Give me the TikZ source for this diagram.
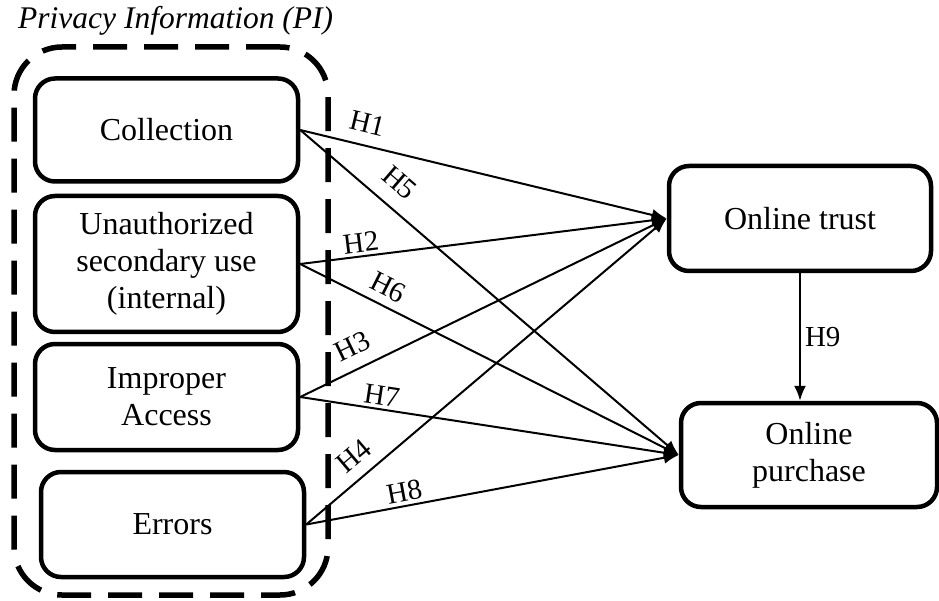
\documentclass[tikz,border=0pt]{standalone}
\usepackage{fontspec}
\setmainfont{Liberation Serif}
\usetikzlibrary{arrows.meta,positioning,calc}

\begin{document}
\begin{tikzpicture}[
    x=1pt, y=-1pt,
    font=\fontsize{32}{37}\selectfont,
    box/.style={draw=black, rounded corners=20pt, line width=4.5pt, align=center, inner sep=0pt},
    frame/.style={draw=black, dash pattern=on 34pt off 17pt, rounded corners=48pt, line width=5.5pt, inner sep=0pt},
    arr/.style={-{Latex[length=15pt,width=12pt]}, line width=2pt},
    hlab/.style={sloped, above, inner sep=3pt, font=\fontsize{29}{30}\selectfont}
]
\useasboundingbox (0,0) rectangle (939,601);

\node[font=\fontsize{31.5}{36}\selectfont\itshape, anchor=base west, inner sep=0pt] (title) at (18,29) {Privacy Information (PI)};

\node[frame, minimum width=314pt, minimum height=548pt] (pi) at (171,321) {};

\node[box, minimum width=263pt, minimum height=103pt] (coll) at (166.5,130) {Collection};
\node[box, minimum width=263pt, minimum height=136pt] (unauth) at (166.5,264) {Unauthorized\\secondary use\\(internal)};
\node[box, minimum width=263pt, minimum height=106pt] (improper) at (166.5,397) {Improper\\Access};
\node[box, minimum width=263pt, minimum height=105pt] (errors) at (172.5,524.5) {Errors};

\node[box, minimum width=262pt, minimum height=105pt] (trust) at (800,218.5) {Online trust};
\node[box, minimum width=256pt, minimum height=104pt] (purchase) at (809,455) {Online\\purchase};

% paths to online trust
\draw[arr] (coll.east) -- node[hlab, pos=0.17, above=9pt] {H1} (trust.west);
\draw[arr] (unauth.east) -- node[hlab, pos=0.17] {H2} (trust.west);
\draw[arr] (improper.east) -- node[hlab, pos=0.17, above=9pt] {H3} (trust.west);
\draw[arr] (errors.east) -- node[hlab, pos=0.17, above=8pt] {H4} (trust.west);

% paths to online purchase
\draw[arr] (coll.east) -- node[hlab, pos=0.22, above=11pt] {H5} (purchase.west);
\draw[arr] (unauth.east) -- node[hlab, pos=0.21, above=5pt] {H6} (purchase.west);
\draw[arr] (improper.east) -- node[hlab, pos=0.21] {H7} (purchase.west);
\draw[arr] (errors.east) -- node[hlab, pos=0.27] {H8} (purchase.west);

\draw[arr] (trust.south) -- node[right, inner sep=4pt, font=\fontsize{29}{30}\selectfont] {H9} (trust.south |- purchase.north);

\end{tikzpicture}
\end{document}
